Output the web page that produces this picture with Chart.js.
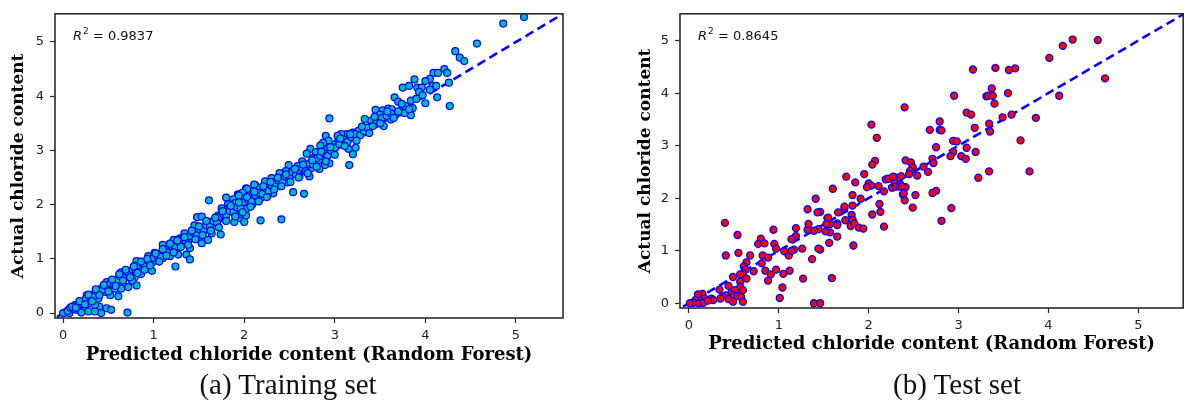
<!DOCTYPE html>
<html>
<head>
<meta charset="utf-8">
<script src="https://cdn.jsdelivr.net/npm/chart.js@4.4.1/dist/chart.umd.min.js"></script>
<style>
  html, body { margin: 0; padding: 0; background: #fff; }
  body { width: 1188px; height: 404px; position: relative; overflow: hidden; }
  .panel { position: absolute; top: 0; height: 372px; }
  #p1 { left: 0; width: 580px; }
  #p2 { left: 600px; width: 588px; }
  .caption {
    position: absolute; top: 370px;
    font-family: "Liberation Serif", "Times New Roman", serif;
    font-size: 29px; line-height: 29px; color: #111;
    white-space: nowrap; transform: translateX(-50%);
  }
</style>
</head>
<body>
<div class="panel" id="p1"><canvas id="c1"></canvas></div>
<div class="panel" id="p2"><canvas id="c2"></canvas></div>
<div class="caption" style="left:288px">(a) Training set</div>
<div class="caption" style="left:957px">(b) Test set</div>

<script>
// Axis tick values (both axes, both panels)
const tickValues = [0, 1, 2, 3, 4, 5];

// Training set: predicted (x) and actual (y) chloride content
const trainPredicted = [
  5.09, 4.86, 4.57, 4.33, 4.38, 4.43, 4.21, 4.24, 4.09, 4.14,
  3.88, 4.05, 4.00, 4.08, 4.12, 3.75, 3.82, 3.91, 3.96, 3.93,
  3.97, 3.66, 3.70, 3.84, 3.86, 4.00, 4.13, 4.27, 4.26, 3.45,
  3.53, 3.59, 3.63, 3.75, 3.79, 3.72, 3.67, 3.84, 3.77, 3.50,
  3.54, 3.62, 3.48, 3.54, 3.40, 3.33, 3.45, 2.94, 3.30, 3.32,
  3.26, 3.20, 3.13, 3.07, 3.03, 2.90, 3.15, 3.09, 3.03, 2.98,
  2.93, 2.87, 2.84, 2.92, 3.01, 3.15, 3.23, 3.20, 3.16, 2.73,
  2.79, 2.85, 2.69, 2.76, 2.82, 2.90, 2.94, 2.89, 2.83, 2.74,
  2.64, 2.68, 2.59, 2.49, 2.46, 2.54, 2.61, 2.72, 2.39, 2.43,
  2.35, 2.30, 2.23, 2.32, 2.39, 2.48, 2.54, 2.66, 2.12, 2.17,
  2.24, 2.32, 2.02, 1.99, 1.93, 2.08, 2.19, 2.26, 1.88, 1.91,
  2.00, 2.09, 1.86, 1.97, 2.41, 2.18, 2.02, 1.95, 2.11, 2.03,
  1.98, 1.94, 1.61, 1.80, 1.82, 1.90, 1.99, 1.75, 1.84, 2.02,
  1.95, 1.71, 1.78, 1.89, 2.00, 1.48, 1.53, 1.62, 1.67, 1.74,
  1.60, 1.51, 1.45, 1.42, 1.34, 1.29, 1.22, 1.32, 1.38, 1.53,
  1.60, 1.51, 1.64, 1.40, 1.36, 1.40, 1.24, 1.10, 1.16, 1.25,
  1.27, 1.01, 1.09, 1.18, 0.94, 1.03, 1.10, 0.98, 0.87, 0.81,
  0.92, 0.98, 0.79, 0.85, 0.74, 0.64, 0.70, 0.79, 0.86, 0.81,
  0.76, 0.61, 0.55, 0.66, 0.72, 0.48, 0.50, 0.57, 0.64, 0.42,
  0.46, 0.52, 0.61, 0.35, 0.33, 0.39, 0.28, 0.26, 0.20, 0.29,
  0.40, 0.48, 0.53, 0.42, 0.71, 0.35, 0.18, 0.13, 0.09, 0.06,
  0.02, 0.15, 0.24, 0.28, 0.20, 0.07, 0.00, 0.35, 0.05, 0.08,
  0.12, 0.16, 0.22, 0.25, 0.30, 0.34, 0.38, 0.44, 0.47, 0.52,
  0.56, 0.60, 0.63, 0.68, 0.70, 0.73, 0.77, 0.80, 0.84, 0.88,
  0.90, 0.95, 1.00, 1.04, 1.08, 1.12, 1.15, 1.20, 1.24, 1.28,
  1.31, 1.35, 1.40, 1.44, 1.47, 1.50, 1.55, 1.58, 1.62, 1.66,
  1.70, 1.73, 1.77, 1.80, 1.84, 1.88, 1.92, 1.96, 2.00, 2.04,
  2.08, 2.12, 2.15, 2.20, 2.24, 2.27, 2.30, 2.34, 2.38, 2.42,
  2.45, 2.50, 2.53, 2.57, 2.60, 2.64, 2.68, 2.72, 2.76, 2.80,
  2.84, 2.88, 2.92, 2.96, 3.00, 3.05, 3.10, 3.14, 3.18, 3.22,
  3.28, 3.32, 3.36, 3.42, 3.46, 3.52, 3.57, 3.62, 3.70, 3.78,
  3.90, 4.05,
  0.10, 0.14, 0.18, 0.24, 0.28, 0.32, 0.36, 0.40, 0.45, 0.50,
  0.54, 0.58, 0.62, 0.66, 0.69, 0.74, 0.78, 0.82, 0.86, 0.90,
  0.93, 0.96, 1.02, 1.06, 1.10, 1.14, 1.18, 1.22, 1.26, 1.30,
  1.34, 1.38, 1.42, 1.46, 1.50, 1.54, 1.58, 1.63, 1.68, 1.72,
  1.76, 1.80, 1.85, 1.90, 1.94, 1.98, 2.03, 2.07, 2.11, 2.16,
  2.21, 2.25, 2.29, 2.33, 2.37, 2.41, 2.46, 2.51, 2.56, 2.60,
  2.65, 2.70, 2.75, 2.80, 2.85, 2.90, 2.95, 3.00, 3.06, 3.11,
  3.17, 3.24, 3.30, 3.38, 3.44, 3.50, 3.58, 3.65, 3.74, 3.82
];
const trainActual = [
  5.46, 5.34, 4.97, 4.83, 4.71, 4.65, 4.50, 4.43, 4.43, 4.43,
  4.31, 4.32, 4.28, 4.19, 4.19, 4.16, 4.19, 4.16, 4.16, 4.08,
  4.02, 3.98, 3.90, 3.92, 3.78, 3.87, 3.98, 3.82, 4.25, 3.75,
  3.74, 3.77, 3.76, 3.81, 3.73, 3.70, 3.66, 3.65, 3.69, 3.66,
  3.59, 3.57, 3.51, 3.45, 3.55, 3.58, 3.48, 3.59, 3.39, 3.33,
  3.36, 3.33, 3.30, 3.30, 3.27, 3.27, 3.21, 3.17, 3.15, 3.11,
  3.18, 3.14, 3.09, 3.03, 3.06, 3.03, 3.05, 2.93, 2.73, 3.03,
  2.97, 2.94, 2.94, 2.86, 2.82, 2.85, 2.76, 2.73, 2.66, 2.67,
  2.80, 2.70, 2.71, 2.73, 2.62, 2.58, 2.52, 2.52, 2.58, 2.49,
  2.46, 2.49, 2.43, 2.40, 2.34, 2.41, 2.23, 2.20, 2.36, 2.31,
  2.28, 2.21, 2.30, 2.22, 2.19, 2.16, 2.13, 2.17, 2.10, 2.01,
  1.99, 2.01, 1.92, 1.89, 1.73, 1.71, 1.80, 1.75, 2.37, 2.29,
  2.22, 2.17, 2.08, 2.13, 2.01, 2.03, 1.98, 1.93, 1.95, 1.92,
  1.83, 1.80, 1.74, 1.68, 1.68, 1.77, 1.78, 1.68, 1.62, 1.45,
  1.56, 1.53, 1.62, 1.44, 1.47, 1.38, 1.35, 1.29, 1.32, 1.29,
  1.35, 1.41, 1.47, 1.20, 1.08, 0.99, 0.86, 1.26, 1.20, 1.17,
  1.08, 1.11, 1.11, 1.05, 1.05, 0.99, 1.01, 0.93, 0.93, 0.96,
  0.84, 0.78, 0.87, 0.81, 0.78, 0.75, 0.66, 0.66, 0.72, 0.51,
  0.60, 0.63, 0.57, 0.54, 0.48, 0.57, 0.48, 0.45, 0.45, 0.45,
  0.39, 0.33, 0.31, 0.36, 0.30, 0.27, 0.24, 0.33, 0.21, 0.18,
  0.12, 0.09, 0.06, 0.00, 0.01, 0.15, 0.12, 0.15, 0.09, 0.06,
  0.01, 0.06, 0.09, 0.03, 0.01, 0.00, 0.00, 0.03, 0.04, 0.10,
  0.08, 0.14, 0.20, 0.26, 0.28, 0.31, 0.40, 0.43, 0.50, 0.55,
  0.52, 0.60, 0.68, 0.70, 0.76, 0.72, 0.80, 0.78, 0.88, 0.90,
  0.86, 0.97, 1.02, 1.06, 1.04, 1.15, 1.12, 1.24, 1.22, 1.30,
  1.35, 1.33, 1.42, 1.48, 1.44, 1.55, 1.52, 1.62, 1.60, 1.70,
  1.66, 1.78, 1.82, 1.80, 1.88, 1.86, 1.95, 1.94, 2.05, 2.10,
  2.06, 2.18, 2.22, 2.20, 2.30, 2.26, 2.35, 2.38, 2.44, 2.42,
  2.52, 2.50, 2.60, 2.56, 2.64, 2.68, 2.62, 2.76, 2.74, 2.86,
  2.90, 2.95, 2.90, 3.00, 3.05, 3.12, 3.20, 3.16, 3.25, 3.30,
  3.28, 3.36, 3.42, 3.45, 3.55, 3.60, 3.64, 3.68, 3.72, 3.82,
  3.95, 4.12,
  0.12, 0.10, 0.22, 0.16, 0.34, 0.22, 0.44, 0.33, 0.52, 0.40,
  0.62, 0.50, 0.72, 0.60, 0.80, 0.66, 0.86, 0.74, 0.95, 0.80,
  1.00, 0.88, 1.10, 0.95, 1.18, 1.06, 1.28, 1.12, 1.34, 1.22,
  1.40, 1.26, 1.52, 1.36, 1.60, 1.44, 1.70, 1.52, 1.76, 1.58,
  1.88, 1.70, 1.98, 1.78, 2.04, 1.86, 2.14, 1.96, 2.24, 2.06,
  2.34, 2.14, 2.42, 2.28, 2.50, 2.34, 2.56, 2.42, 2.66, 2.50,
  2.74, 2.58, 2.82, 2.70, 2.98, 2.80, 3.06, 2.92, 3.22, 3.08,
  3.30, 3.18, 3.44, 3.32, 3.62, 3.50, 3.72, 3.60, 3.86, 3.76
];

// Test set: predicted (x) and actual (y) chloride content
const testPredicted = [
  4.27, 4.55, 4.16, 4.01, 4.63, 4.12, 3.16, 3.41, 3.56, 3.63,
  2.95, 3.31, 3.33, 3.38, 3.37, 3.55, 3.40, 2.40, 3.09, 3.14,
  3.49, 3.59, 3.86, 2.03, 2.09, 2.79, 2.68, 2.79, 2.81, 3.18,
  3.34, 3.35, 3.69, 2.94, 2.98, 2.75, 3.09, 3.19, 2.94, 2.91,
  3.03, 3.08, 2.07, 2.04, 2.41, 2.47, 2.49, 2.46, 2.45, 2.54,
  2.61, 2.66, 2.71, 2.72, 3.34, 3.22, 3.79, 1.75, 1.95, 1.85,
  1.60, 2.00, 2.03, 2.11, 1.98, 2.19, 2.29, 2.28, 2.36, 2.35,
  2.41, 2.26, 2.30, 2.17, 2.52, 2.38, 2.40, 2.75, 2.71, 2.49,
  2.92, 2.81, 1.82, 1.91, 1.82, 2.12, 2.13, 2.04, 2.17, 1.66,
  1.73, 1.81, 1.82, 1.74, 1.80, 1.84, 1.89, 1.94, 1.65, 1.57,
  1.54, 1.46, 1.41, 1.32, 1.43, 1.55, 1.65, 1.57, 1.65, 1.52,
  1.44, 1.39, 1.46, 1.44, 1.56, 1.37, 1.59, 1.27, 1.39, 1.46,
  1.83, 0.40, 0.54, 0.41, 0.55, 0.80, 0.77, 0.84, 0.94, 0.95,
  0.97, 0.68, 0.82, 0.88, 0.81, 0.64, 0.61, 0.63, 0.72, 0.60,
  0.85, 0.97, 0.91, 0.88, 1.05, 1.12, 1.04, 1.01, 1.11, 1.06,
  1.17, 1.26, 1.19, 1.19, 1.32, 1.33, 0.49, 0.57, 0.64, 0.57,
  0.57, 0.60, 0.51, 0.44, 0.46, 0.41, 0.50, 0.54, 0.58, 0.44,
  0.49, 0.60, 0.34, 0.37, 0.35, 0.25, 0.27, 0.19, 0.15, 0.10,
  0.17, 0.12, 0.07, 0.05, 0.11, 0.16, 0.21, 0.01, 1.73, 2.22,
  2.27, 2.34, 2.39, 2.37, 1.14, 1.14, 1.53
];
const testActual = [
  5.02, 5.01, 4.90, 4.67, 4.28, 3.95, 4.45, 4.48, 4.44, 4.47,
  3.95, 3.94, 3.95, 3.95, 4.09, 4.00, 3.80, 3.73, 3.63, 3.59,
  3.54, 3.59, 3.53, 3.40, 3.15, 3.46, 3.30, 3.30, 3.29, 3.34,
  3.42, 3.27, 3.10, 3.09, 3.08, 2.97, 2.96, 2.88, 2.88, 2.80,
  2.80, 2.75, 2.71, 2.64, 2.72, 2.68, 2.59, 2.52, 2.46, 2.43,
  2.60, 2.50, 2.75, 2.67, 2.51, 2.39, 2.51, 2.41, 2.46, 2.30,
  2.18, 2.28, 2.24, 2.23, 2.21, 2.36, 2.40, 2.34, 2.42, 2.27,
  2.21, 2.20, 2.22, 2.13, 2.06, 2.07, 1.96, 2.14, 2.10, 1.82,
  1.81, 1.57, 2.06, 1.99, 1.86, 1.89, 1.74, 1.69, 1.46, 1.73,
  1.81, 1.68, 1.59, 1.58, 1.47, 1.52, 1.44, 1.42, 1.52, 1.51,
  1.62, 1.74, 1.99, 1.79, 1.73, 1.63, 1.49, 1.35, 1.27, 1.37,
  1.41, 1.38, 1.02, 1.04, 1.15, 0.84, 0.48, 0.47, 0.00, 0.00,
  1.10, 1.53, 1.30, 0.91, 0.96, 1.23, 1.13, 1.14, 1.40, 1.13,
  1.04, 0.91, 0.91, 0.87, 0.76, 0.78, 0.70, 0.64, 0.61, 0.57,
  0.62, 0.64, 0.55, 0.43, 0.56, 0.62, 0.30, 0.10, 0.91, 0.99,
  1.02, 1.04, 1.28, 1.43, 1.40, 1.51, 0.50, 0.55, 0.47, 0.41,
  0.31, 0.25, 0.25, 0.33, 0.18, 0.15, 0.15, 0.14, 0.12, 0.08,
  0.03, 0.03, 0.26, 0.12, 0.09, 0.09, 0.06, 0.07, 0.18, 0.17,
  0.09, 0.05, 0.06, 0.01, 0.00, 0.01, 0.05, 0.00, 1.84, 2.37,
  2.41, 2.22, 2.09, 2.23, 1.00, 1.22, 1.51
];

// End points of the y = x reference line
const diagonal = [-0.2, 5.7];

const toPoints = (xs, ys) => xs.map((x, i) => ({ x, y: ys[i] }));

// Full frame around the plotting area
const frameBox = {
  id: 'frameBox',
  afterDraw(chart) {
    const { ctx, chartArea: a } = chart;
    ctx.save();
    ctx.strokeStyle = '#2b2b2b';
    ctx.lineWidth = 1.6;
    ctx.strokeRect(a.left, a.top, a.right - a.left, a.bottom - a.top);
    ctx.restore();
  }
};

// Coefficient of determination written in the upper-left corner
const r2Note = {
  id: 'r2Note',
  afterDraw(chart, args, opts) {
    const { ctx, chartArea: a } = chart;
    ctx.save();
    ctx.fillStyle = '#111';
    ctx.textBaseline = 'middle';
    ctx.textAlign = 'left';
    let x = a.left + 18;
    const y = a.top + 23;
    ctx.font = 'italic 13px "DejaVu Sans"';
    ctx.fillText('R', x, y);
    x += ctx.measureText('R').width + 1;
    ctx.font = '9px "DejaVu Sans"';
    ctx.fillText('2', x, y - 5);
    x += ctx.measureText('2').width;
    ctx.font = '13px "DejaVu Sans"';
    ctx.fillText(' = ' + opts.value, x, y);
    ctx.restore();
  }
};

function axis(cfg) {
  const horizontal = cfg.horizontal;
  return {
    type: 'linear',
    min: cfg.min,
    max: cfg.max,
    afterBuildTicks: s => { s.ticks = tickValues.map(v => ({ value: v })); },
    afterFit: s => { if (horizontal) s.height = cfg.size; else s.width = cfg.size; },
    grid: { display: true, drawOnChartArea: false, drawTicks: true, tickLength: 5, tickColor: '#2b2b2b', tickWidth: 1.2 },
    border: { display: false },
    ticks: {
      color: '#222',
      font: { family: 'DejaVu Sans', size: 13 },
      padding: horizontal ? 5 : 6,
      maxRotation: 0,
      callback: v => String(v)
    },
    title: {
      display: true,
      text: cfg.title,
      color: '#000',
      font: { family: 'DejaVu Serif', weight: 'bold', size: cfg.titleSize },
      padding: cfg.titlePad
    }
  };
}

function makeChart(id, pts, marker, r2, layout) {
  return new Chart(document.getElementById(id), {
    type: 'scatter',
    data: {
      datasets: [
        {
          data: pts,
          backgroundColor: marker.fill,
          borderColor: '#0000ff',
          borderWidth: marker.edge,
          pointRadius: 3.5,
          pointHoverRadius: 3.5
        },
        {
          type: 'line',
          data: toPoints(diagonal, diagonal),
          borderColor: '#0000ff',
          borderWidth: 2.6,
          borderDash: [9, 5],
          pointRadius: 0,
          fill: false
        }
      ]
    },
    options: {
      responsive: true,
      maintainAspectRatio: false,
      animation: false,
      events: [],
      layout: { padding: layout.padding },
      plugins: { legend: { display: false }, tooltip: { enabled: false }, r2Note: { value: r2 } },
      scales: {
        x: axis({ horizontal: true, min: layout.xMin, max: layout.xMax, size: layout.xSize, titleSize: 18,
                  title: 'Predicted chloride content (Random Forest)', titlePad: { top: 0, bottom: layout.xTitlePad } }),
        y: axis({ horizontal: false, min: layout.yMin, max: layout.yMax, size: layout.ySize, titleSize: 17,
                  title: 'Actual chloride content', titlePad: { top: layout.yTitlePad, bottom: 0 } })
      }
    },
    plugins: [frameBox, r2Note]
  });
}

makeChart('c1', toPoints(trainPredicted, trainActual), { fill: '#00b8c0', edge: 1.2 }, '0.9837', {
  padding: { top: 7, right: 17, left: 0, bottom: 0 },
  xMin: -0.09, xMax: 5.52, yMin: -0.09, yMax: 5.52,
  xSize: 54, ySize: 55, xTitlePad: 6, yTitlePad: 8
});

makeChart('c2', toPoints(testPredicted, testActual), { fill: '#ff0000', edge: 1.3 }, '0.8645', {
  padding: { top: 5, right: 1, left: 0, bottom: 0 },
  xMin: -0.1, xMax: 5.5, yMin: -0.09, yMax: 5.51,
  xSize: 64, ySize: 80, xTitlePad: 17, yTitlePad: 35
});
</script>
</body>
</html>
